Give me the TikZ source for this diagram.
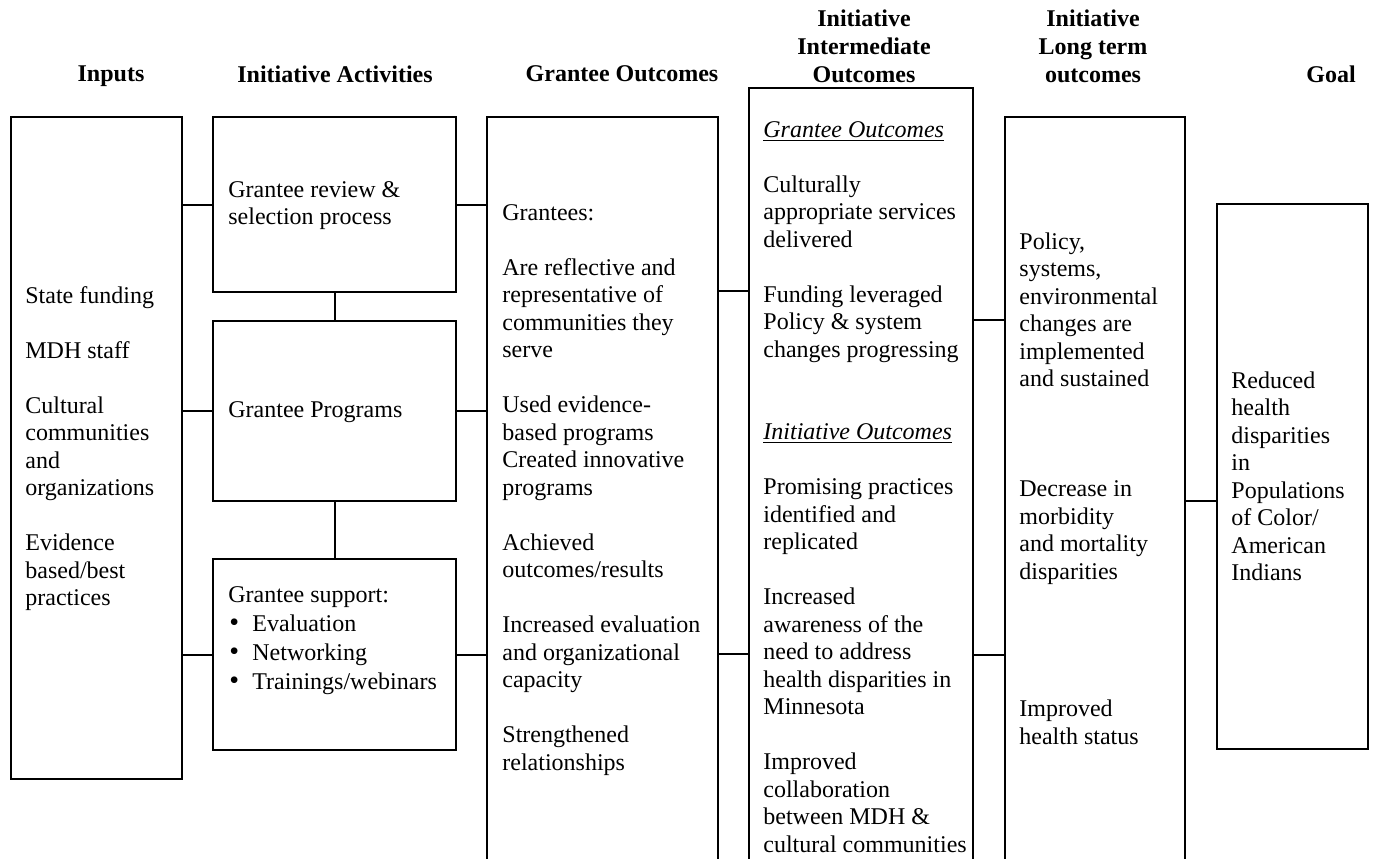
\documentclass[tikz,border=0pt]{standalone}
\usepackage{fontspec}
\setmainfont{Liberation Serif}
\usetikzlibrary{fit}
\newcommand\lmbul{\makebox[12pt][l]{\hspace{0.5pt}{\fontsize{14pt}{14pt}\selectfont\textbullet}}}
\begin{document}
\begin{tikzpicture}[x=0.5pt,y=-0.5pt,
  box/.style={draw,line width=1pt,inner sep=0pt,rectangle},
  txt/.style={anchor=north west,inner sep=0pt,align=left,font=\fontsize{12pt}{13.75pt}\selectfont},
  hdr/.style={anchor=north,inner sep=0pt,align=center,font=\fontsize{12pt}{14pt}\selectfont\bfseries},
  link/.style={line width=1pt}]
\useasboundingbox (0,0) rectangle (1374,858);
\clip (0,0) rectangle (1374,858);
% headers
\node[hdr] (h1) at (111,65) {Inputs};
\node[hdr] (h2) at (335,65) {Initiative Activities};
\node[hdr] (h3) at (622,65) {Grantee Outcomes};
\node[hdr] (h4) at (864,9) {Initiative\\Intermediate\\Outcomes};
\node[hdr] (h5) at (1093,9) {Initiative\\Long term\\outcomes};
\node[hdr] (h6) at (1331,65) {Goal};
% boxes
\node[box, fit={(11,117) (182,779)}] (inp) {};
\node[box, fit={(213,117) (456,292)}] (act1) {};
\node[box, fit={(213,321) (456,501)}] (act2) {};
\node[box, fit={(213,559) (456,750)}] (act3) {};
\node[box, fit={(487,117) (718,890)}] (gout) {};
\node[box, fit={(749,88) (973,890)}] (inter) {};
\node[box, fit={(1005,117) (1185,890)}] (lterm) {};
\node[box, fit={(1217,204) (1368,749)}] (goal) {};
% texts
\node[txt] (tinp) at (25,286) {State funding\\[13.75pt]MDH staff\\[13.75pt]Cultural\\communities\\and\\organizations\\[13.75pt]Evidence\\based/best\\practices};
\node[txt] (tact1) at (228,181) {Grantee review \&\\selection process};
\node[txt] (tact2) at (228,401) {Grantee Programs};
\node[txt, font=\fontsize{12pt}{14.6pt}\selectfont] (tact3) at (228,586) {Grantee support:\\\lmbul Evaluation\\\lmbul Networking\\\lmbul Trainings/webinars};
\node[txt] (tgout) at (502,204) {Grantees:\\[13.75pt]Are reflective and\\representative of\\communities they\\serve\\[13.75pt]Used evidence-\\based programs\\Created innovative\\programs\\[13.75pt]Achieved\\outcomes/results\\[13.75pt]Increased evaluation\\and organizational\\capacity\\[13.75pt]Strengthened\\relationships};
\node[txt] (tinter) at (763,121) {\underline{\textit{Grantee Outcomes}}\\[13.75pt]Culturally\\appropriate services\\delivered\\[13.75pt]Funding leveraged\\Policy \& system\\changes progressing\\[27.5pt]\underline{\textit{Initiative Outcomes}}\\[13.75pt]Promising practices\\identified and\\replicated\\[13.75pt]Increased\\awareness of the\\need to address\\health disparities in\\Minnesota\\[13.75pt]Improved\\collaboration\\between MDH \&\\cultural communities};
\node[txt] (tlterm) at (1019,232) {Policy,\\systems,\\environmental\\changes are\\implemented\\and sustained\\[41.25pt]Decrease in\\morbidity\\and mortality\\disparities\\[55pt]Improved\\health status};
\node[txt] (tgoal) at (1231,371) {Reduced\\health\\disparities\\in\\Populations\\of Color/\\American\\Indians};
% connectors
\coordinate (g1) at (0,291);
\coordinate (g2) at (0,654);
\coordinate (i1) at (0,320);
\coordinate (i2) at (0,655);
\coordinate (l1) at (0,501);
\foreach \a in {act1,act2,act3}{
  \draw[link] (\a.west -| inp.east) -- (\a.west);
  \draw[link] (\a.east) -- (\a.east -| gout.west);
}
\draw[link] (act1.south) -- (act2.north);
\draw[link] (act2.south) -- (act3.north);
\draw[link] (gout.east |- g1) -- (inter.west |- g1);
\draw[link] (gout.east |- g2) -- (inter.west |- g2);
\draw[link] (inter.east |- i1) -- (lterm.west |- i1);
\draw[link] (inter.east |- i2) -- (lterm.west |- i2);
\draw[link] (lterm.east |- l1) -- (goal.west |- l1);
\end{tikzpicture}
\end{document}
